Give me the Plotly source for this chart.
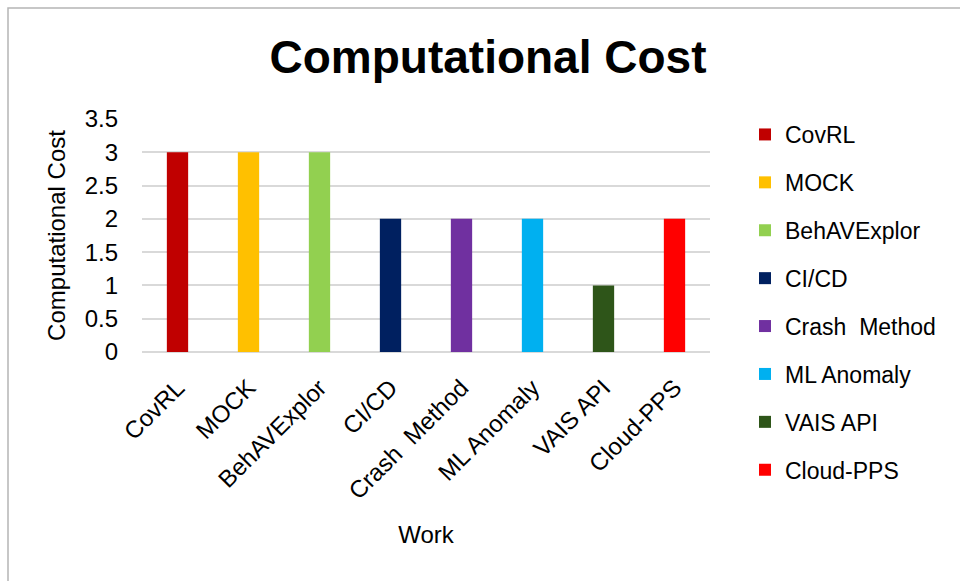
import plotly.graph_objects as go

works = ["CovRL", "MOCK", "BehAVExplor", "CI/CD", "Crash  Method", "ML Anomaly", "VAIS API", "Cloud-PPS"]
costs = [3, 3, 3, 2, 2, 2, 1, 2]
colors = ["#C00000", "#FFC000", "#92D050", "#002060", "#7030A0", "#00B0F0", "#2E5519", "#FF0000"]
y_ticks = [0, 0.5, 1, 1.5, 2, 2.5, 3, 3.5]
y_tick_text = ["0", "0.5", "1", "1.5", "2", "2.5", "3", "3.5"]

FONT = "Liberation Sans, Arial, sans-serif"

fig = go.Figure()
for name, val, col in zip(works, costs, colors):
    fig.add_trace(go.Bar(
        x=[name], y=[val], name=name, marker_color=col,
        marker_line_width=0, width=0.3, legendgroup=name,
    ))

L, R, T, B = 142, 250, 119, 229
W = 960 - L - R
H = 581 - T - B

fig.update_layout(
    width=960, height=581,
    margin=dict(l=L, r=R, t=T, b=B),
    paper_bgcolor="white", plot_bgcolor="white",
    barmode="overlay",
    font=dict(family=FONT, size=24, color="black"),
    title=dict(text="<b>Computational Cost</b>", font=dict(size=46, family=FONT, color="black"),
               x=488 / 960, xanchor="center", y=1 - 57 / 581, yanchor="middle"),
    xaxis=dict(
        categoryorder="array", categoryarray=works,
        tickangle=-45, tickfont=dict(size=24),
        showgrid=False, showline=False, zeroline=False, ticks="",
        ticklabelstandoff=16,
        title=dict(text="Work", font=dict(size=24), standoff=22),
    ),
    yaxis=dict(
        range=[0, 3.5], tickvals=y_ticks, ticktext=y_tick_text,
        showgrid=True, gridcolor="#D9D9D9", gridwidth=1.5,
        zeroline=True, zerolinecolor="#D9D9D9", zerolinewidth=1.5,
        showline=False, ticks="", tickfont=dict(size=24),
        ticklabelstandoff=23,
        title=dict(text="Computational Cost", font=dict(size=24), standoff=12),
    ),
    legend=dict(
        x=(745 - L) / W, xanchor="left", y=1 - (113 - T) / H, yanchor="top",
        font=dict(size=23), tracegroupgap=15, bgcolor="rgba(0,0,0,0)",
        maxheight=560,
    ),
    showlegend=True,
    shapes=[dict(
        type="rect", xref="paper", yref="paper",
        x0=(8 - L) / W, x1=(990 - L) / W,
        y0=1 - (610 - T) / H, y1=1 - (8 - T) / H,
        line=dict(color="#B5B5B5", width=1.5), fillcolor="rgba(0,0,0,0)", layer="below",
    )],
)

fig.write_html("out.html")
